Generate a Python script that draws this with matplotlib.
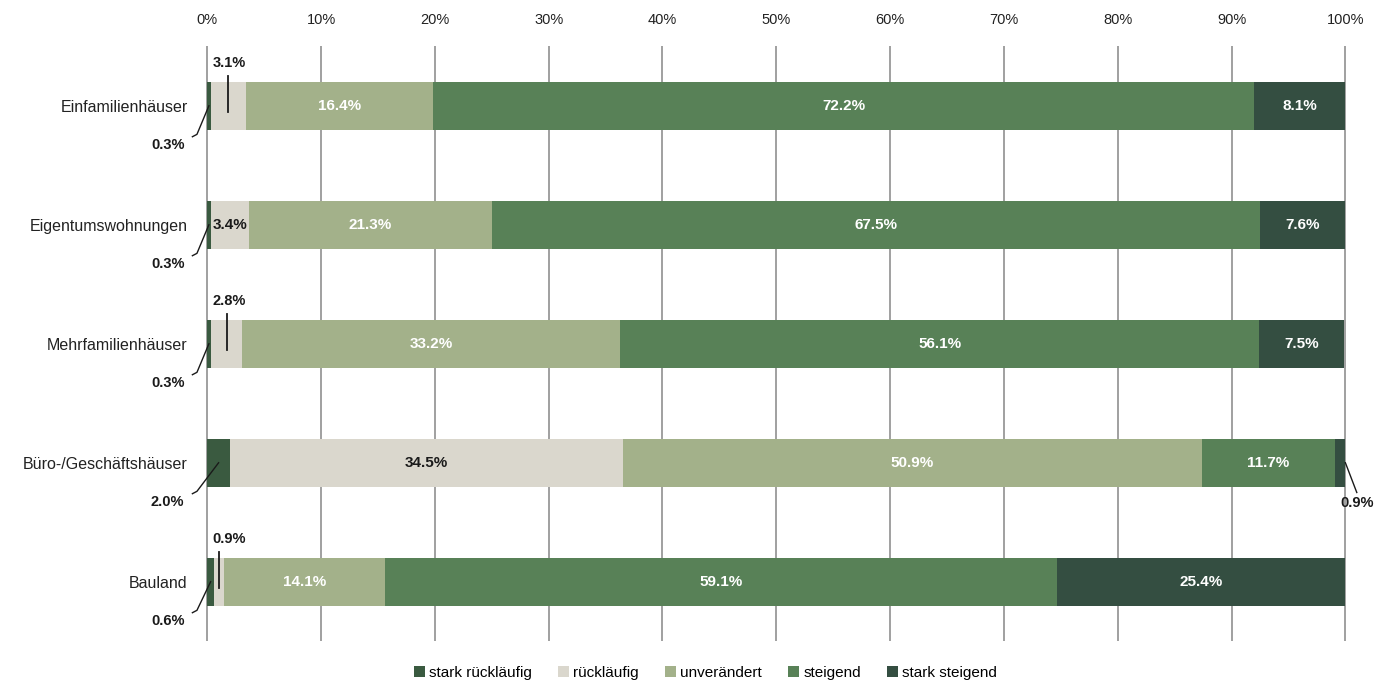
import numpy as np
import matplotlib
matplotlib.use('Agg')
import matplotlib.pyplot as plt
from matplotlib.patches import Patch

plt.rcParams['font.family'] = ['Liberation Sans', 'DejaVu Sans']

categories = ['Einfamilienhäuser', 'Eigentumswohnungen', 'Mehrfamilienhäuser',
              'Büro-/Geschäftshäuser', 'Bauland']
series_names = ['stark rückläufig', 'rückläufig', 'unverändert', 'steigend', 'stark steigend']
stark_rueck = [0.3, 0.3, 0.3, 2.0, 0.6]
rueck = [3.1, 3.4, 2.8, 34.5, 0.9]
unver = [16.4, 21.3, 33.2, 50.9, 14.1]
steig = [72.2, 67.5, 56.1, 11.7, 59.1]
stark_steig = [8.1, 7.6, 7.5, 0.9, 25.4]
xticks = [0, 10, 20, 30, 40, 50, 60, 70, 80, 90, 100]

colors = ['#3a5a40', '#dad7cd', '#a3b18a', '#588157', '#344e41']
text_cols = ['white', '#1a1a1a', 'white', 'white', 'white']

data = [stark_rueck, rueck, unver, steig, stark_steig]

fig = plt.figure(figsize=(14, 6.91), dpi=100)
ax = fig.add_axes([0.148, 0.072, 0.813, 0.861])

y = np.arange(len(categories))
left = np.zeros(len(categories))
for k, vals in enumerate(data):
    vals = np.array(vals)
    w = np.minimum(vals, 100 - left)
    ax.barh(y, w, left=left, height=0.4, color=colors[k], zorder=3)
    for i, v in enumerate(vals):
        mid = left[i] + w[i] / 2
        lab = '{:.1f}%'.format(v)
        if v >= 3.3:
            ax.text(mid, y[i], lab, ha='center', va='center', color=text_cols[k],
                    fontsize=11, fontweight='bold', zorder=4)
        elif k == 0:
            # small value at left: label below with bent leader
            ax.plot([mid, -0.9, -1.3], [y[i], y[i] + 0.24, y[i] + 0.26],
                    color='#1a1a1a', lw=1, clip_on=False, zorder=4)
            ax.text(-2.0, y[i] + 0.33, lab, ha='right', va='center', color='#1a1a1a',
                    fontsize=10.5, fontweight='bold')
        elif k == 1:
            # small value: label above with vertical leader
            ax.plot([mid, mid], [y[i] + 0.05, y[i] - 0.25],
                    color='#1a1a1a', lw=1.3, zorder=4)
            ax.text(0.45, y[i] - 0.36, lab, ha='left', va='center', color='#1a1a1a',
                    fontsize=10.5, fontweight='bold')
        else:
            # small value at right end
            ax.plot([100, 101.0], [y[i], y[i] + 0.25],
                    color='#1a1a1a', lw=1, clip_on=False, zorder=4)
            ax.text(101.0, y[i] + 0.34, lab, ha='center', va='center', color='#1a1a1a',
                    fontsize=10.5, fontweight='bold')
    left = left + w

ax.set_xlim(0, 100)
ax.set_ylim(4.5, -0.5)
ax.set_yticks(y)
ax.set_yticklabels(categories, fontsize=11.5, color='#222222')
ax.set_xticks(xticks)
ax.set_xticklabels(['{}%'.format(t) for t in xticks], fontsize=10.5, color='#222222')
ax.xaxis.tick_top()
ax.tick_params(axis='y', length=0, pad=14)
ax.tick_params(axis='x', length=0, pad=14)
ax.vlines(xticks, -0.5, 4.5, color='#a0a0a0', lw=1.4, zorder=0, clip_on=False)
for s in ax.spines.values():
    s.set_visible(False)

handles = [Patch(facecolor=c, label=n) for c, n in zip(colors, series_names)]
fig.legend(handles=handles, loc='center', bbox_to_anchor=(0.504, 0.026), ncol=5,
           frameon=False, fontsize=11, handlelength=0.7, handleheight=0.7,
           handletextpad=0.3, columnspacing=1.7)

fig.savefig('out.png', dpi=100)
